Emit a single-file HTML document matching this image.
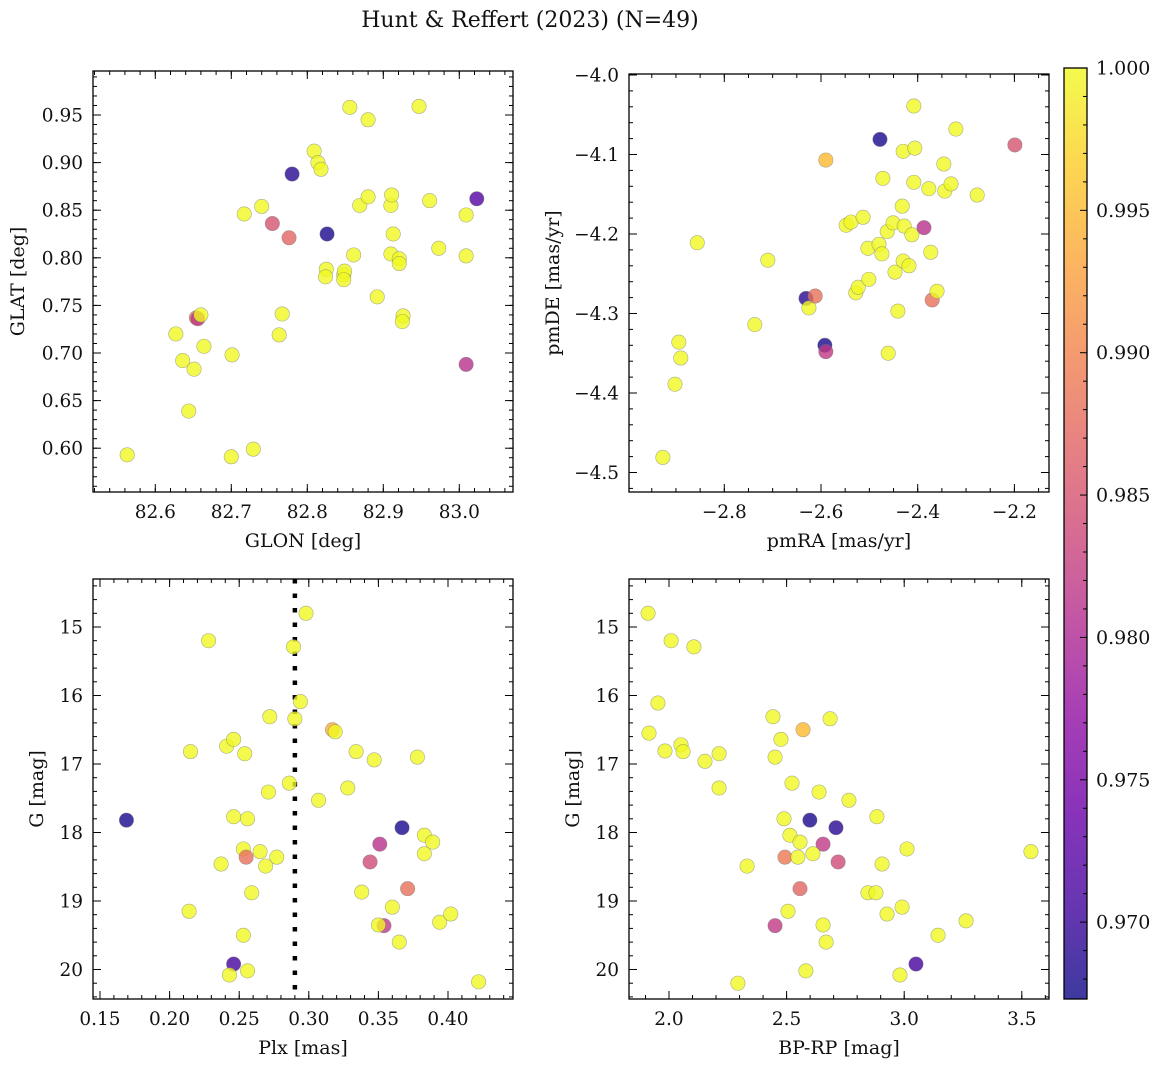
<!DOCTYPE html>
<html>
<head>
<meta charset="utf-8">
<style>
  html,body{margin:0;padding:0;background:#fff;}
  svg{display:block;font-family:"DejaVu Serif","Liberation Serif",serif;}
</style>
</head>
<body>
<svg id="fig" width="1161" height="1067" viewBox="0 0 1161 1067" xmlns="http://www.w3.org/2000/svg">
  <text x="530" y="27" font-size="22" text-anchor="middle" fill="#111">Hunt &amp; Reffert (2023) (N=49)</text>
</svg>
<script>
// ---------- data ----------
const glon = [82.563,82.627,82.636,82.644,82.651,82.654,82.656,82.660,82.664,82.700,82.701,82.717,82.729,82.740,82.754,82.763,82.767,82.776,82.780,82.809,82.814,82.818,82.826,82.825,82.824,82.848,82.849,82.848,82.856,82.861,82.869,82.880,82.880,82.892,82.910,82.911,82.913,82.910,82.921,82.921,82.926,82.925,82.947,82.961,82.973,83.009,83.009,83.009,83.023];
const glat = [0.593,0.720,0.692,0.639,0.683,0.737,0.736,0.740,0.707,0.591,0.698,0.846,0.599,0.854,0.836,0.719,0.741,0.821,0.888,0.912,0.900,0.893,0.825,0.788,0.780,0.782,0.786,0.777,0.958,0.803,0.855,0.945,0.864,0.759,0.855,0.866,0.825,0.804,0.799,0.794,0.739,0.733,0.959,0.860,0.810,0.845,0.802,0.688,0.862];
const probA = [1,1,1,1,1,0.988,0.982,1,1,1,1,1,1,1,0.985,1,1,0.987,0.969,1,1,1,0.968,1,1,1,1,1,1,1,1,1,1,1,1,1,1,1,1,1,1,1,1,1,1,1,1,0.981,0.972];

const pmra = [-2.927,-2.902,-2.890,-2.894,-2.856,-2.737,-2.710,-2.631,-2.625,-2.612,-2.592,-2.590,-2.590,-2.548,-2.538,-2.528,-2.523,-2.513,-2.503,-2.501,-2.478,-2.480,-2.474,-2.472,-2.463,-2.461,-2.451,-2.447,-2.441,-2.432,-2.430,-2.428,-2.430,-2.418,-2.412,-2.408,-2.406,-2.408,-2.387,-2.377,-2.373,-2.370,-2.360,-2.346,-2.344,-2.331,-2.321,-2.277,-2.199];
const pmde = [-4.481,-4.389,-4.356,-4.336,-4.211,-4.314,-4.233,-4.281,-4.293,-4.278,-4.340,-4.348,-4.107,-4.189,-4.185,-4.274,-4.267,-4.179,-4.218,-4.257,-4.081,-4.213,-4.225,-4.130,-4.197,-4.350,-4.186,-4.248,-4.297,-4.165,-4.096,-4.190,-4.234,-4.240,-4.201,-4.135,-4.092,-4.039,-4.192,-4.143,-4.223,-4.283,-4.272,-4.112,-4.146,-4.137,-4.068,-4.151,-4.088];
const probB = [1,1,1,1,1,1,1,0.969,1,0.988,0.968,0.982,0.995,1,1,1,1,1,1,1,0.968,1,1,1,1,1,1,1,1,1,1,1,1,1,1,1,1,1,0.981,1,1,0.988,1,1,1,1,1,1,0.985];

const plx = [0.169,0.228,0.215,0.241,0.246,0.254,0.246,0.256,0.253,0.255,0.265,0.277,0.269,0.237,0.259,0.214,0.253,0.246,0.243,0.256,0.272,0.271,0.286,0.289,0.290,0.294,0.298,0.307,0.317,0.319,0.334,0.328,0.347,0.378,0.338,0.351,0.344,0.371,0.360,0.354,0.350,0.365,0.367,0.383,0.389,0.383,0.394,0.402,0.422];
const gmagC = [17.82,15.20,16.82,16.74,16.64,16.85,17.77,17.80,18.24,18.36,18.28,18.36,18.49,18.46,18.88,19.15,19.50,19.92,20.08,20.02,16.31,17.41,17.28,15.29,16.34,16.09,14.80,17.53,16.50,16.53,16.82,17.35,16.94,16.90,18.87,18.17,18.43,18.82,19.09,19.36,19.35,19.60,17.93,18.04,18.14,18.31,19.31,19.19,20.18];
const probC = [0.968,1,1,1,1,1,1,1,1,0.988,1,1,1,1,1,1,1,0.971,1,1,1,1,1,1,1,1,1,1,0.994,1,1,1,1,1,1,0.981,0.984,0.988,1,0.982,1,1,0.968,1,1,1,1,1,1];
const plxCut = [0.29];

const bprp = [2.442,2.685,2.570,2.476,2.213,2.153,2.451,2.213,2.523,2.638,2.765,2.884,2.489,2.599,2.710,2.514,2.557,2.655,2.493,2.548,2.612,2.719,2.332,3.012,2.906,2.557,2.846,2.880,2.991,2.927,2.506,2.451,2.655,2.668,2.582,2.293,2.982,3.050,1.911,2.009,2.106,1.953,1.915,1.983,2.051,2.060,3.539,3.263,3.144];
const gmagD = [16.31,16.34,16.50,16.64,16.85,16.96,16.90,17.35,17.28,17.41,17.53,17.77,17.80,17.82,17.93,18.04,18.14,18.17,18.36,18.36,18.31,18.43,18.49,18.24,18.46,18.82,18.88,18.88,19.09,19.19,19.15,19.36,19.35,19.60,20.02,20.20,20.08,19.92,14.80,15.20,15.29,16.11,16.55,16.81,16.72,16.82,18.28,19.29,19.50];
const probD = [1,1,0.995,1,1,1,1,1,1,1,1,1,1,0.968,0.969,1,1,0.982,0.989,1,1,0.984,1,1,1,0.987,1,1,1,1,1,0.982,1,1,1,1,1,0.971,1,1,1,1,1,1,1,1,1,1,1];

const cbTicks = [0.970,0.975,0.980,0.985,0.990,0.995,1.000];
const cbMin = 0.9673, cbMax = 1.0;

// ---------- helpers ----------
const NS = "http://www.w3.org/2000/svg";
const svg = document.getElementById('fig');
function mk(tag, attrs, parent){
  const e = document.createElementNS(NS, tag);
  for (const k in attrs) e.setAttribute(k, attrs[k]);
  (parent || svg).appendChild(e);
  return e;
}
const plasmaStops = [[13,8,135],[65,4,157],[106,0,168],[143,13,164],[177,42,144],[204,71,120],[225,100,98],[242,132,75],[252,166,54],[252,206,37],[240,249,33]];
function plasma(t){
  t = Math.max(0, Math.min(1, t));
  const f = t*10, i = Math.min(9, Math.floor(f)), r = f - i;
  const a = plasmaStops[i], b = plasmaStops[i+1];
  return 'rgb(' + [0,1,2].map(k => Math.round(a[k] + (b[k]-a[k])*r)).join(',') + ')';
}
function colorFor(p){ return plasma((p - cbMin)/(cbMax - cbMin)); }
function fmt(v, d){ return (v < 0 ? '\u2212' : '') + Math.abs(v).toFixed(d); }

function drawPanel(cfg){
  const g = mk('g', {});
  
  
  const sx = v => cfg.x0 + (v - cfg.xv0)*cfg.kx;
  const sy = v => cfg.y0 - (v - cfg.yv0)*cfg.ky;
  const L = cfg.L, R = cfg.R, T = cfg.T, B = cfg.B;
  const inv = v => cfg.xv0 + (v - cfg.x0)/cfg.kx;
  const invy = v => cfg.yv0 - (v - cfg.y0)/cfg.ky;
  const xmin = Math.min(inv(L), inv(R)), xmax = Math.max(inv(L), inv(R));
  const ymin = Math.min(invy(T), invy(B)), ymax = Math.max(invy(T), invy(B));
  const ticks = mk('g', {stroke:'#000','stroke-width':1}, g);
  
  
  function tickLoop(min, max, step, cb){
    const i0 = Math.ceil(min/step - 1e-6), i1 = Math.floor(max/step + 1e-6);
    for (let i = i0; i <= i1; i++) cb(+(i*step).toFixed(6));
  }
  tickLoop(xmin, xmax, cfg.xminor, v => {
    const x = sx(v);
    mk('line', {x1:x, x2:x, y1:B, y2:B-4}, ticks);
    mk('line', {x1:x, x2:x, y1:T, y2:T+4}, ticks);
  });
  tickLoop(ymin, ymax, cfg.yminor, v => {
    const y = sy(v);
    mk('line', {x1:L, x2:L+4, y1:y, y2:y}, ticks);
    mk('line', {x1:R, x2:R-4, y1:y, y2:y}, ticks);
  });
  const labels = mk('g', {'font-size':18.5, fill:'#111'}, g);
  tickLoop(xmin, xmax, cfg.xmajor, v => {
    const x = sx(v);
    mk('line', {x1:x, x2:x, y1:B, y2:B-8}, ticks);
    mk('line', {x1:x, x2:x, y1:T, y2:T+8}, ticks);
    const t = mk('text', {x:x, y:B+26, 'text-anchor':'middle'}, labels);
    
    
    t.textContent = fmt(v, cfg.xd);
  });
  tickLoop(ymin, ymax, cfg.ymajor, v => {
    const y = sy(v);
    mk('line', {x1:L, x2:L+8, y1:y, y2:y}, ticks);
    mk('line', {x1:R, x2:R-8, y1:y, y2:y}, ticks);
    const t = mk('text', {x:L-10, y:y+6.5, 'text-anchor':'end'}, labels);
    
    
    t.textContent = fmt(v, cfg.yd);
  });
  if (cfg.vline){
    cfg.vline.forEach(v => {
      const ln = mk('line', {x1:sx(v), x2:sx(v), y1:T, y2:B, stroke:'#000','stroke-width':4.5,'stroke-dasharray':'4.5,10'}, g);
      
      
    });
  }
  const pts = mk('g', {}, g);
  
  
  for (let i = 0; i < cfg.xs.length; i++){
    const c = mk('circle', {cx:sx(cfg.xs[i]), cy:sy(cfg.ys[i]), r:7.2, fill:colorFor(cfg.ps[i]), 'fill-opacity':0.8, stroke:'#777', 'stroke-opacity':0.6, 'stroke-width':0.6}, pts);
    
    
  }
  const fr = mk('rect', {x:L, y:T, width:R-L, height:B-T, fill:'none', stroke:'#000', 'stroke-width':1.3}, g);
  
  
  const xt = mk('text', {x:(L+R)/2, y:B+55, 'text-anchor':'middle', 'font-size':19, fill:'#111'}, g);
  
  
  xt.textContent = cfg.xlabel;
  const yt = mk('text', {x:0, y:0, 'text-anchor':'middle', 'font-size':19, fill:'#111', transform:'translate(' + cfg.ylx + ',' + (T+B)/2 + ') rotate(-90)'}, g);
  
  
  yt.textContent = cfg.ylabel;
}

drawPanel({name:'glon-glat-panel', xs:glon, ys:glat, ps:probA, L:93,R:513,T:71,B:492,
  x0:155.3, xv0:82.6, kx:760, y0:115, yv0:0.95, ky:952,
  xmajor:0.1, xminor:0.02, ymajor:0.05, yminor:0.01, xd:1, yd:2, xlabel:'GLON [deg]', ylabel:'GLAT [deg]', ylx:24});
drawPanel({name:'pm-panel', xs:pmra, ys:pmde, ps:probB, L:629,R:1049,T:74,B:492,
  x0:724.3, xv0:-2.8, kx:483.5, y0:75, yv0:-4.0, ky:795,
  xmajor:0.2, xminor:0.05, ymajor:0.1, yminor:0.02, xd:1, yd:1, xlabel:'pmRA [mas/yr]', ylabel:'pmDE [mas/yr]', ylx:559});
drawPanel({name:'plx-g-panel', xs:plx, ys:gmagC, ps:probC, L:93,R:513,T:579,B:999,
  x0:100, xv0:0.15, kx:1392, y0:627, yv0:15, ky:-68.5,
  xmajor:0.05, xminor:0.01, ymajor:1, yminor:0.2, xd:2, yd:0, xlabel:'Plx [mas]', ylabel:'G [mag]', ylx:43, vline:plxCut});
drawPanel({name:'color-magnitude-panel', xs:bprp, ys:gmagD, ps:probD, L:629,R:1049,T:579,B:999,
  x0:669, xv0:2.0, kx:235.2, y0:627, yv0:15, ky:-68.5,
  xmajor:0.5, xminor:0.1, ymajor:1, yminor:0.2, xd:1, yd:0, xlabel:'BP-RP [mag]', ylabel:'G [mag]', ylx:579});

// ---------- colorbar ----------
(function(){
  const cb = mk('g', {});
  
  
  const L = 1064, R = 1087, T = 68, B = 999;
  const defs = mk('defs', {}, cb);
  const grad = mk('linearGradient', {id:'cbgrad', x1:0, y1:1, x2:0, y2:0}, defs);
  for (let i = 0; i <= 20; i++){
    mk('stop', {offset:(i/20), 'stop-color':plasma(i/20)}, grad);
  }
  const r = mk('rect', {x:L, y:T, width:R-L, height:B-T, fill:'url(#cbgrad)', 'fill-opacity':0.8}, cb);
  
  
  const sy = v => T + (cbMax - v)/(cbMax - cbMin)*(B - T);
  for (let k = 968; k <= 1000; k++){
    const v = k/1000, y = sy(v);
    const major = (k % 5 === 0);
    mk('line', {x1:R, x2:R - (major ? 7 : 4), y1:y, y2:y, stroke:'#000', 'stroke-width':1}, cb);
  }
  cbTicks.forEach(v => {
    const t = mk('text', {x:R+9, y:sy(v)+6.5, 'font-size':19, fill:'#111'}, cb);
    
    
    t.textContent = v.toFixed(3);
  });
  mk('rect', {x:L, y:T, width:R-L, height:B-T, fill:'none', stroke:'#000', 'stroke-width':1.3}, cb);
})();
</script>
</body>
</html>
